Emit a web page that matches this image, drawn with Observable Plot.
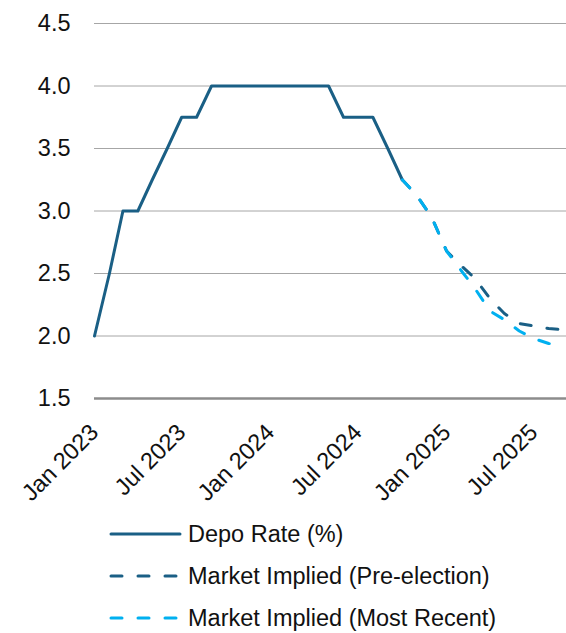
<!DOCTYPE html>
<html><head><meta charset="utf-8">
<script src="https://cdn.jsdelivr.net/npm/d3@7"></script>
<script src="https://cdn.jsdelivr.net/npm/@observablehq/plot@0.6"></script>
<style>
body{margin:0;background:#fff;font-family:"Liberation Sans",Arial,sans-serif}
#legend div{display:flex;align-items:center;height:42px;font-size:23.5px;color:#111}
</style>
</head><body>
<div id="chart"></div>
<div id="legend"></div>
<script>
const seriesNames = ["Depo Rate (%)", "Market Implied (Pre-election)", "Market Implied (Most Recent)"];
const depoMonths = ["2023-01","2023-02","2023-03","2023-04","2023-05","2023-06","2023-07","2023-08","2023-09","2023-10","2023-11","2023-12",
  "2024-01","2024-02","2024-03","2024-04","2024-05","2024-06","2024-07","2024-08","2024-09","2024-10"];
const depoValues = [2.0,2.5,3.0,3.0,3.25,3.5,3.75,3.75,4.0,4.0,4.0,4.0,
  4.0,4.0,4.0,4.0,4.0,3.75,3.75,3.75,3.5,3.25];
const forecastMonths = ["2024-10","2024-11","2024-12","2025-01","2025-02","2025-03","2025-04","2025-05","2025-06","2025-07","2025-08","2025-09"];
const preElection = [3.25,3.12,2.95,2.68,2.56,2.46,2.30,2.18,2.10,2.08,2.06,2.05];
const mostRecent  = [3.25,3.12,2.95,2.68,2.52,2.38,2.20,2.13,2.04,1.98,1.94,1.92];
const xTickMonths = ["2023-01","2023-07","2024-01","2024-07","2025-01","2025-07"];
const yTicks = [1.5,2.0,2.5,3.0,3.5,4.0,4.5];

const dark = "#1a5f85", light = "#00b0f0";
const parse = d3.utcParse("%Y-%m");
const depo = depoMonths.map((m,i)=>({date:parse(m), value:depoValues[i]}));
const pre = forecastMonths.map((m,i)=>({date:parse(m), value:preElection[i]}));
const recent = forecastMonths.map((m,i)=>({date:parse(m), value:mostRecent[i]}));

const chart = Plot.plot({
  width:566, height:510,
  marginLeft:94, marginRight:0, marginTop:23, marginBottom:112,
  style:{fontFamily:'"Liberation Sans",Arial,sans-serif', fontSize:"23.5px", color:"#111", background:"#fff", overflow:"visible"},
  x:{type:"utc", domain:[parse("2023-01"), new Date(Date.UTC(2025,8,7))], ticks:xTickMonths.map(parse),
     tickFormat:d3.utcFormat("%b %Y"), tickRotate:-45, tickSize:0, tickPadding:30, label:null},
  y:{domain:[1.5,4.5], ticks:yTicks, tickFormat:d3.format(".1f"), tickSize:0, tickPadding:24, label:null},
  marks:[
    Plot.ruleY(yTicks.filter(t=>t>1.5), {stroke:"#a6a6a6", strokeWidth:1}),
    Plot.ruleY([1.5], {stroke:"#8c8c8c", strokeWidth:2.5}),
    Plot.line(depo, {x:"date", y:"value", stroke:dark, strokeWidth:3}),
    Plot.line(pre, {x:"date", y:"value", stroke:dark, strokeWidth:3, strokeDasharray:"11,16", strokeLinecap:"round"}),
    Plot.line(recent, {x:"date", y:"value", stroke:light, strokeWidth:3, strokeDasharray:"11,16", strokeLinecap:"round"})
  ]
});
document.getElementById("chart").appendChild(chart);

// legend
const styles = [{c:dark, d:null},{c:dark, d:"11,16"},{c:light, d:"11,16"}];
const leg = d3.select("#legend").style("padding-left","108px").style("margin-top","3px");
seriesNames.forEach((name,i)=>{
  const row = leg.append("div");
  const s = row.append("svg").attr("width",76).attr("height",10).style("margin-right","4px");
  const ln = s.append("line").attr("x1",3).attr("x2",72).attr("y1",5).attr("y2",5)
    .attr("stroke",styles[i].c).attr("stroke-width",3).attr("stroke-linecap","round");
  if (styles[i].d) ln.attr("stroke-dasharray",styles[i].d);
  row.append("span").text(name);
});
</script>
</body></html>
